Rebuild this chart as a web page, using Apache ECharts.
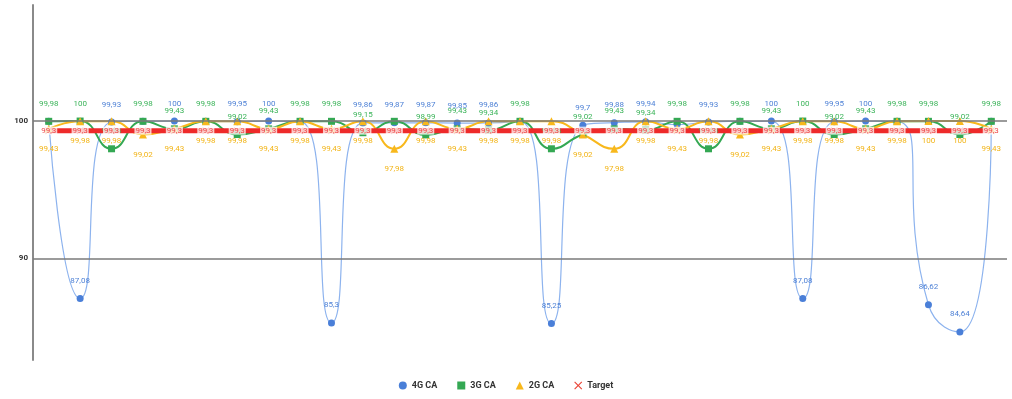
<!DOCTYPE html>
<html>
<head>
<meta charset="utf-8">
<script src="https://cdn.jsdelivr.net/npm/echarts@6/dist/echarts.min.js"></script>
<style>
  html, body {margin: 0; padding: 0; background: #fff;}
  #chart {width: 1012px; height: 399px;}
</style>
</head>
<body>
<div id="chart"></div>
<script>
// days of the month
const days = ['1', '2', '3', '4', '5', '6', '7', '8', '9', '10', '11', '12', '13', '14', '15', '16',
  '17', '18', '19', '20', '21', '22', '23', '24', '25', '26', '27', '28', '29', '30', '31'];

const ca4g = [99.98, 87.08, 99.93, 99.98, 100, 99.98, 99.95, 100, 99.98, 85.3, 99.86, 99.87, 99.87, 99.85, 99.86, 99.98,
  85.25, 99.70, 99.88, 99.94, 99.74, 99.93, 99.98, 100, 87.08, 99.95, 100, 99.98, 86.62, 84.64, 99.98];
const ca3g = [99.98, 100, 97.98, 99.98, 99.43, 99.98, 99.02, 99.43, 99.98, 99.98, 99.15, 99.98, 98.99, 99.43, 99.34, 99.98,
  97.98, 99.02, 99.43, 99.34, 99.98, 97.98, 99.98, 99.43, 100, 99.02, 99.43, 99.98, 99.98, 99.02, 99.98];
const ca2g = [99.43, 99.98, 99.98, 99.02, 99.43, 99.98, 99.98, 99.43, 99.98, 99.43, 99.98, 97.98, 99.98, 99.43, 99.98, 99.98,
  99.98, 99.02, 97.98, 99.98, 99.43, 99.98, 99.02, 99.43, 99.98, 99.98, 99.43, 99.98, 100, 100, 99.43];
const target = [99.3, 99.3, 99.3, 99.3, 99.3, 99.3, 99.3, 99.3, 99.3, 99.3, 99.3, 99.3, 99.3, 99.3, 99.3, 99.3,
  99.3, 99.3, 99.3, 99.3, 99.3, 99.3, 99.3, 99.3, 99.3, 99.3, 99.3, 99.3, 99.3, 99.3, 99.3];

// reference lines shown on the value axis
const yTicks = [100, 90];

// labels hidden in the picture (covered by another series' label)
const hide4g = [0, 3, 5, 8, 15, 20, 22, 27, 30];
const hide3g = [11];

const fmt = (p) => String(p.value).replace('.', ',');
const cross = 'path://M1,0L5,4L9,0L10,1L6,5L10,9L9,10L5,6L1,10L0,9L4,5L0,1Z';

function items(arr, hidden) {
  return arr.map((v, i) => hidden.indexOf(i) >= 0 ? {value: v, label: {show: false}} : v);
}

const myChart = echarts.init(document.getElementById('chart'));
const option = {
  animation: false,
  textStyle: {fontFamily: 'Roboto, Arial, sans-serif'},
  grid: {left: 33, right: 5, top: 5, bottom: 39},
  legend: {
    bottom: 4,
    left: 'center',
    itemWidth: 8,
    itemHeight: 8,
    itemGap: 20,
    textStyle: {fontSize: 9, fontWeight: 'bold', color: '#333'},
    data: [
      {name: '4G CA', icon: 'circle'},
      {name: '3G CA', icon: 'rect'},
      {name: '2G CA', icon: 'triangle'},
      {name: 'Target', icon: cross}
    ]
  },
  xAxis: {
    type: 'category',
    data: days,
    boundaryGap: true,
    axisLine: {show: false},
    axisTick: {show: false},
    axisLabel: {show: false},
    splitLine: {show: false}
  },
  yAxis: {
    type: 'value',
    min: 82.6,
    max: 108.45,
    axisLine: {show: true, lineStyle: {color: '#8a8a8a', width: 2}},
    axisTick: {show: false},
    axisLabel: {show: false},
    splitLine: {show: false}
  },
  series: [{
    name: '4G CA',
    type: 'line',
    smooth: 0.6,
    symbol: 'circle',
    symbolSize: 7,
    itemStyle: {color: '#4a7fd8'},
    lineStyle: {color: '#8db3ee', width: 1.2},
    label: {show: true, position: 'top', distance: 10, fontSize: 8, color: '#4f82d6', formatter: fmt},
    data: items(ca4g, hide4g),
    markLine: {
      silent: true,
      symbol: 'none',
      animation: false,
      lineStyle: {color: '#7a7a7a', type: 'solid', width: 1.5},
      label: {position: 'start', distance: 5, formatter: '{c}', fontSize: 8, fontWeight: 'bold', color: '#333'},
      data: yTicks.map((v) => ({yAxis: v}))
    }
  }, {
    name: '3G CA',
    type: 'line',
    smooth: true,
    symbol: 'rect',
    symbolSize: 7,
    itemStyle: {color: '#34a853'},
    lineStyle: {color: '#34a853', width: 2},
    label: {show: true, position: 'top', distance: 10, fontSize: 8, color: '#3cb45a', formatter: fmt},
    data: items(ca3g, hide3g)
  }, {
    name: '2G CA',
    type: 'line',
    smooth: true,
    symbol: 'triangle',
    symbolSize: 8,
    itemStyle: {color: '#f8b81c'},
    lineStyle: {color: '#f8b81c', width: 2},
    label: {show: true, position: 'bottom', distance: 12, fontSize: 8, color: '#f2b417', formatter: fmt},
    data: ca2g
  }, {
    name: 'Target',
    type: 'line',
    symbol: cross,
    symbolSize: 7,
    itemStyle: {color: '#ea4335'},
    lineStyle: {color: '#ee2a2a', width: 5},
    label: {
      show: true, position: 'inside', fontSize: 8, color: '#ee4a4a', formatter: fmt,
      backgroundColor: 'rgba(255,255,255,0.75)', padding: [0, 1]
    },
    data: target
  }]
};
myChart.setOption(option, true);
</script>
</body>
</html>
